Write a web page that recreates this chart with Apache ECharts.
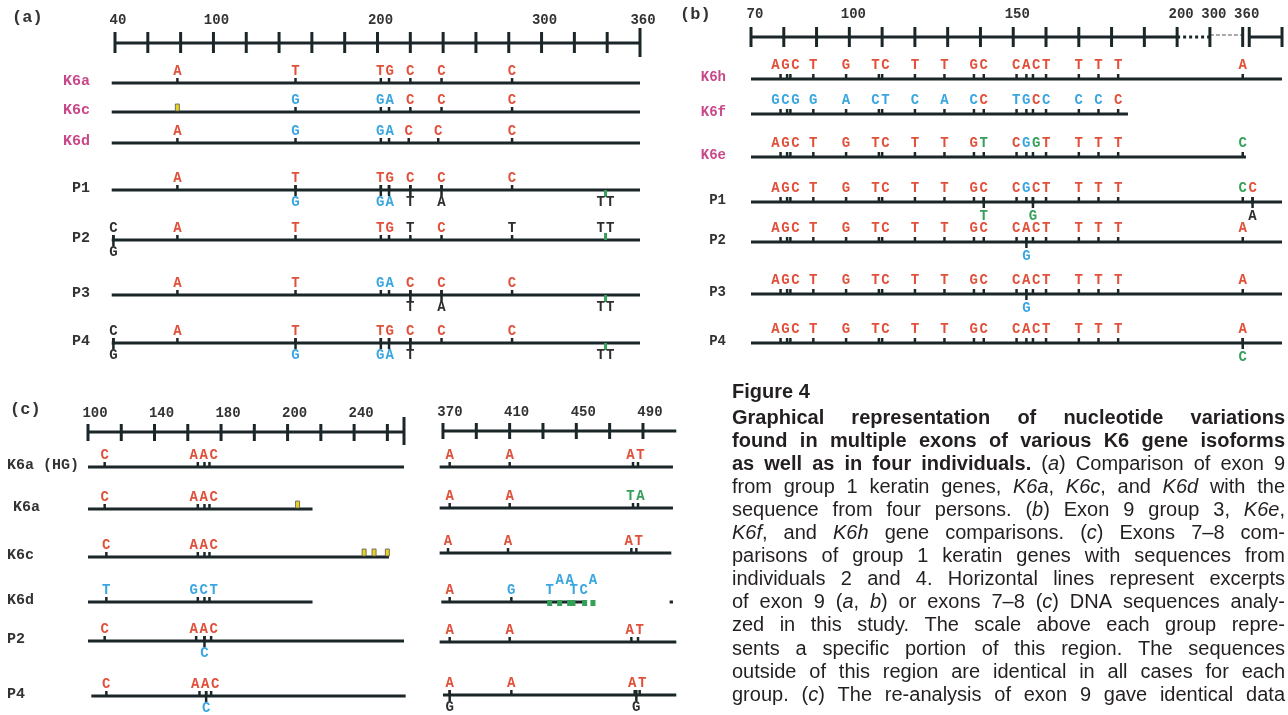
<!DOCTYPE html>
<html>
<head>
<meta charset="utf-8">
<script src="https://cdn.jsdelivr.net/npm/echarts@6/dist/echarts.min.js"></script>
<style>
  html, body { margin: 0; padding: 0; background: #fff; }
  #chart { width: 1288px; height: 715px; }
</style>
</head>
<body>
<div id="chart"></div>
<script>
// ---------- data ----------
// variant rows: [row, position, base(s), colour class, side ('u' above / 'd' below), mark ('g' green, 'y' yellow), tier]
// colour class: r = red, b = blue, g = green, k = dark

// (a) exon 9, group 1
const rowsA = ['K6a', 'K6c', 'K6d', 'P1', 'P2', 'P3', 'P4'];
const rulerTicksA = [40, 60, 80, 100, 120, 140, 160, 180, 200, 220, 240, 260, 280, 300, 320, 340, 360];
const rulerEndA = [360];
const rulerSegA = [[40, 360, 'solid']];
const tickLabelsA = [40, 100, 200, 300, 360];
const tracksA = [[0, 38, 360], [1, 38, 360], [2, 38, 360], [3, 38, 360], [4, 38, 360], [5, 38, 360], [6, 38, 360]];
const varsA = [
  [0, 78, 'A', 'r', 'u'], [0, 150, 'T', 'r', 'u'], [0, 202, 'T', 'r', 'u'], [0, 207, 'G', 'r', 'u'], [0, 220, 'C', 'r', 'u'], [0, 239, 'C', 'r', 'u'], [0, 282, 'C', 'r', 'u'],
  [1, 78, '', 'r', 'u', 'y'], [1, 150, 'G', 'b', 'u'], [1, 202, 'G', 'b', 'u'], [1, 207, 'A', 'b', 'u'], [1, 220, 'C', 'r', 'u'], [1, 239, 'C', 'r', 'u'], [1, 282, 'C', 'r', 'u'],
  [2, 78, 'A', 'r', 'u'], [2, 150, 'G', 'b', 'u'], [2, 202, 'G', 'b', 'u'], [2, 207, 'A', 'b', 'u'], [2, 219, 'C', 'r', 'u'], [2, 237, 'C', 'r', 'u'], [2, 282, 'C', 'r', 'u'],
  [3, 78, 'A', 'r', 'u'], [3, 150, 'T', 'r', 'u'], [3, 202, 'T', 'r', 'u'], [3, 207, 'G', 'r', 'u'], [3, 220, 'C', 'r', 'u'], [3, 239, 'C', 'r', 'u'], [3, 282, 'C', 'r', 'u'],
  [3, 150, 'G', 'b', 'd'], [3, 202, 'G', 'b', 'd'], [3, 207, 'A', 'b', 'd'], [3, 220, 'T', 'k', 'd'], [3, 239, 'A', 'k', 'd'], [3, 339, 'TT', 'k', 'd', 'g'],
  [4, 39, 'C', 'k', 'u'], [4, 39, 'G', 'k', 'd'], [4, 78, 'A', 'r', 'u'], [4, 150, 'T', 'r', 'u'], [4, 202, 'T', 'r', 'u'], [4, 207, 'G', 'r', 'u'], [4, 220, 'T', 'k', 'u'],
  [4, 239, 'C', 'r', 'u'], [4, 282, 'T', 'k', 'u'], [4, 339, 'TT', 'k', 'u', 'g'],
  [5, 78, 'A', 'r', 'u'], [5, 150, 'T', 'r', 'u'], [5, 202, 'G', 'b', 'u'], [5, 207, 'A', 'b', 'u'], [5, 220, 'C', 'r', 'u'], [5, 239, 'C', 'r', 'u'], [5, 282, 'C', 'r', 'u'],
  [5, 220, 'T', 'k', 'd'], [5, 239, 'A', 'k', 'd'], [5, 339, 'TT', 'k', 'd', 'g'],
  [6, 39, 'C', 'k', 'u'], [6, 39, 'G', 'k', 'd'], [6, 78, 'A', 'r', 'u'], [6, 150, 'T', 'r', 'u'], [6, 202, 'T', 'r', 'u'], [6, 207, 'G', 'r', 'u'], [6, 220, 'C', 'r', 'u'],
  [6, 239, 'C', 'r', 'u'], [6, 282, 'C', 'r', 'u'], [6, 150, 'G', 'b', 'd'], [6, 202, 'G', 'b', 'd'], [6, 207, 'A', 'b', 'd'], [6, 220, 'T', 'k', 'd'], [6, 339, 'TT', 'k', 'd', 'g']
];

// (b) exon 9, group 3 (axis broken after 200)
const rowsB = ['K6h', 'K6f', 'K6e', 'P1', 'P2', 'P3', 'P4'];
const rulerTicksB = [70, 80, 90, 100, 110, 120, 130, 140, 150, 160, 170, 180, 190, 200, 300, 360, 372, 432];
const rulerEndB = [];
const rulerSegB = [[70, 200, 'solid'], [200, 300, 'dotted'], [300, 360, 'dashed'], [372, 432, 'solid']];
const tickLabelsB = [70, 100, 150, 200, 300, 360];
const tracksB = [[0, 70, 432], [1, 70, 185], [2, 70, 366], [3, 70, 432], [4, 70, 432], [5, 70, 432], [6, 70, 432]];
const sitesB = [79, 81, 82, 89, 99, 109, 110, 120, 129, 138, 141, 151, 154, 156, 160, 170, 176, 182, 360];
const seqK6h = 'AGCTGTCTTGCCACTTTTA';
const seqK6f = 'GCGGACTCACCTGCCCCC';
const colK6f = 'bbbbbbbbbbrbbrbbbr';
const seqK6e = 'AGCTGTCTTGTCGGTTTTC';
const colK6e = 'rrrrrrrrrrgrbgrrrrg';
const seqP1 = 'AGCTGTCTTGCCGCTTTTC';
const colP1 = 'rrrrrrrrrrrrbrrrrrg';
const extraB = [
  [3, 378, 'C', 'r', 'u'], [3, 141, 'T', 'g', 'd'], [3, 156, 'G', 'g', 'd'], [3, 378, 'A', 'k', 'd'],
  [4, 154, 'G', 'b', 'd'], [5, 154, 'G', 'b', 'd'], [6, 360, 'C', 'g', 'd']
];

// (c) exons 7-8, left and right excerpts
const rowsC = ['K6a (HG)', 'K6a', 'K6c', 'K6d', 'P2', 'P4'];
const rulerTicksC1 = [100, 120, 140, 160, 180, 200, 220, 240, 260, 280, 290];
const rulerEndC1 = [290];
const rulerSegC1 = [[100, 290, 'solid']];
const tickLabelsC1 = ['100', '140', '180', '200', '240'];
const tracksC1 = [[0, 100, 290], [1, 100, 235], [2, 100, 281], [3, 100, 235], [4, 100, 290], [5, 102, 291]];
const varsC1 = [
  [0, 110, 'C', 'r', 'u'], [0, 166, 'A', 'r', 'u'], [0, 170, 'A', 'r', 'u'], [0, 173, 'C', 'r', 'u'],
  [1, 110, 'C', 'r', 'u'], [1, 166, 'A', 'r', 'u'], [1, 170, 'A', 'r', 'u'], [1, 173, 'C', 'r', 'u'], [1, 226, '', 'r', 'u', 'y'],
  [2, 111, 'C', 'r', 'u'], [2, 166, 'A', 'r', 'u'], [2, 170, 'A', 'r', 'u'], [2, 173, 'C', 'r', 'u'],
  [2, 266, '', 'r', 'u', 'y'], [2, 272, '', 'r', 'u', 'y'], [2, 280, '', 'r', 'u', 'y'],
  [3, 111, 'T', 'b', 'u'], [3, 166, 'G', 'b', 'u'], [3, 170, 'C', 'b', 'u'], [3, 173, 'T', 'b', 'u'],
  [4, 110, 'C', 'r', 'u'], [4, 165, 'A', 'r', 'u'], [4, 170, 'A', 'r', 'u'], [4, 174, 'C', 'r', 'u'], [4, 170, 'C', 'b', 'd'],
  [5, 111, 'C', 'r', 'u'], [5, 167, 'A', 'r', 'u'], [5, 171, 'A', 'r', 'u'], [5, 174, 'C', 'r', 'u'], [5, 171, 'C', 'b', 'd']
];
const rulerTicksC2 = [370, 390, 410, 430, 450, 470, 490];
const rulerEndC2 = [];
const rulerSegC2 = [[370, 510, 'solid']];
const tickLabelsC2 = ['370', '410', '450', '490'];
const tracksC2 = [[0, 368, 508], [1, 368, 508], [2, 368, 507], [3, 369, 455], [3, 506, 508], [4, 368, 510], [5, 370, 510]];
const varsC2 = [
  [0, 374, 'A', 'r', 'u'], [0, 410, 'A', 'r', 'u'], [0, 484, 'A', 'r', 'u'], [0, 487, 'T', 'r', 'u'],
  [1, 374, 'A', 'r', 'u'], [1, 410, 'A', 'r', 'u'], [1, 484, 'T', 'g', 'u'], [1, 487, 'A', 'g', 'u'],
  [2, 373, 'A', 'r', 'u'], [2, 409, 'A', 'r', 'u'], [2, 483, 'A', 'r', 'u'], [2, 486, 'T', 'r', 'u'],
  [3, 374, 'A', 'r', 'u'], [3, 411, 'G', 'b', 'u'], [3, 434, 'T', 'b', 'u', 'G', 0], [3, 440, 'A', 'b', 'u', 'G', 1],
  [3, 446, 'A', 'b', 'u', 'G', 1], [3, 448, 'T', 'b', 'u', 'G', 0], [3, 455, 'C', 'b', 'u', 'G', 0], [3, 460, 'A', 'b', 'u', 'G', 1],
  [4, 374, 'A', 'r', 'u'], [4, 410, 'A', 'r', 'u'], [4, 483, 'A', 'r', 'u'], [4, 487, 'T', 'r', 'u'],
  [5, 374, 'A', 'r', 'u'], [5, 374, 'G', 'k', 'd'], [5, 411, 'A', 'r', 'u'], [5, 485, 'A', 'r', 'u'], [5, 488, 'T', 'r', 'u'], [5, 486, 'G', 'k', 'd']
];

// build panel (b) variants from the aligned site list
function fromSites(row, seq, cols) {
  return seq.split('').map((ch, i) => [row, sitesB[i], ch, cols ? cols[i] : 'r', 'u']);
}
const varsB = [].concat(
  fromSites(0, seqK6h), fromSites(1, seqK6f, colK6f), fromSites(2, seqK6e, colK6e),
  fromSites(3, seqP1, colP1), fromSites(4, seqK6h), fromSites(5, seqK6h), fromSites(6, seqK6h), extraB
);

// caption
const captionTitle = 'Figure 4';
const captionLines = [
  [['b', 'Graphical representation of nucleotide variations']],
  [['b', 'found in multiple exons of various K6 gene isoforms']],
  [['b', 'as well as in four individuals.'], ['r', ' ('], ['i', 'a'], ['r', ') Comparison of exon 9']],
  [['r', 'from group 1 keratin genes, '], ['i', 'K6a'], ['r', ', '], ['i', 'K6c'], ['r', ', and '], ['i', 'K6d'], ['r', ' with the']],
  [['r', 'sequence from four persons. ('], ['i', 'b'], ['r', ') Exon 9 group 3, '], ['i', 'K6e'], ['r', ',']],
  [['i', 'K6f'], ['r', ', and '], ['i', 'K6h'], ['r', ' gene comparisons. ('], ['i', 'c'], ['r', ') Exons 7–8 com-']],
  [['r', 'parisons of group 1 keratin genes with sequences from']],
  [['r', 'individuals 2 and 4. Horizontal lines represent excerpts']],
  [['r', 'of exon 9 ('], ['i', 'a'], ['r', ', '], ['i', 'b'], ['r', ') or exons 7–8 ('], ['i', 'c'], ['r', ') DNA sequences analy-']],
  [['r', 'zed in this study. The scale above each group repre-']],
  [['r', 'sents a specific portion of this region. The sequences']],
  [['r', 'outside of this region are identical in all cases for each']],
  [['r', 'group. ('], ['i', 'c'], ['r', ') The re-analysis of exon 9 gave identical data']]
];

// ---------- style / layout ----------
const MONO = '"Liberation Mono", "DejaVu Sans Mono", monospace';
const SANS = '"Liberation Sans", Arial, sans-serif';
const INK = '#1b2628';
const COLORS = { r: '#e0503a', b: '#3aa6e0', g: '#36a05a', k: '#2e2e2e' };
const PINK = '#c8498a';

// axis break for (b): 200..300 squeezed to 10 units, 300.. compressed 6:1
const breakB = p => p <= 200 ? p : p <= 300 ? 200 + (p - 200) / 10 : 210 + (p - 300) / 6;
const same = p => p;

const panels = [
  { rows: rowsA, ticks: rulerTicksA, ends: rulerEndA, segs: rulerSegA, tracks: tracksA, vars: varsA, map: same,
    labelValues: tickLabelsA, labelText: tickLabelsA.map(String), names: true,
    left: 115, top: 43, width: 525, height: 320, min: 40, max: 360,
    rowY: [83, 112, 143, 190, 240, 295, 343], tick: [11, 10], tall: [15, 14],
    gap: 12, step: 9.5, axisMargin: 16, axisPad: 6, nameMargin: 25, nameAlign: 'right', nameSize: 15 },
  { rows: rowsB, ticks: rulerTicksB, ends: rulerEndB, segs: rulerSegB, tracks: tracksB, vars: varsB, map: breakB,
    labelValues: tickLabelsB.map(breakB), labelText: tickLabelsB.map(String), names: true,
    left: 751, top: 37, width: 532, height: 320, min: 70, max: 232.3,
    rowY: [79, 114, 157, 202, 242, 294, 343], tick: [10, 10], tall: [10, 10],
    gap: 14, step: 10, axisMargin: 16, axisPad: 8, nameMargin: 25, nameAlign: 'right', nameSize: 14 },
  { rows: rowsC, ticks: rulerTicksC1, ends: rulerEndC1, segs: rulerSegC1, tracks: tracksC1, vars: varsC1, map: same,
    labelValues: [100, 140, 180, 220, 260], labelText: tickLabelsC1, names: true,
    left: 88, top: 432, width: 316, height: 280, min: 100, max: 290,
    rowY: [467, 509, 557, 602, 641, 696], tick: [8, 9], tall: [15, 13],
    gap: 12, step: 10, axisMargin: 12, axisPad: 14, nameMargin: 81, nameAlign: 'left', nameSize: 15 },
  { rows: rowsC, ticks: rulerTicksC2, ends: rulerEndC2, segs: rulerSegC2, tracks: tracksC2, vars: varsC2, map: same,
    labelValues: [370, 410, 450, 490], labelText: tickLabelsC2, names: false,
    left: 436.3, top: 431, width: 240, height: 280, min: 366, max: 510,
    rowY: [467, 508, 553, 602, 642, 695], tick: [8, 8], tall: [8, 8],
    gap: 12, step: 10, axisMargin: 12, axisPad: 14, nameMargin: 0, nameAlign: 'right', nameSize: 15 }
];

// ---------- build ----------
const grids = [], xAxes = [], yAxes = [], series = [];

panels.forEach((P, i) => {
  const off = P.rowY.map(y => y - P.top);
  const pxPerUnit = P.width / (P.max - P.min);
  grids.push({ left: P.left, top: P.top, width: P.width, height: P.height, outerBoundsMode: 'none' });

  xAxes.push({
    gridIndex: i, type: 'value', min: P.min, max: P.max, position: 'top',
    axisLine: { show: false }, axisTick: { show: false }, splitLine: { show: false },
    axisLabel: {
      customValues: P.labelValues, margin: P.axisMargin, padding: [0, 0, 0, P.axisPad],
      fontFamily: MONO, fontWeight: 'bold', fontSize: 14, color: '#333',
      formatter: v => { const k = P.labelValues.findIndex(u => Math.abs(u - v) < 0.01); return k < 0 ? '' : P.labelText[k]; }
    }
  });

  yAxes.push({
    gridIndex: i, type: 'value', inverse: true, min: 0, max: P.height,
    axisLine: { show: false }, axisTick: { show: false }, splitLine: { show: false },
    axisLabel: {
      show: P.names, customValues: off, margin: P.nameMargin, align: P.nameAlign,
      formatter: v => {
        const k = off.findIndex(u => Math.abs(u - v) < 0.5);
        if (k < 0) return '';
        const name = P.rows[k];
        if (i === 2) return (name === 'K6a' ? '{ind|' : '{p|') + name + '}';
        return (name.startsWith('K6') ? '{k|' : '{p|') + name + '}';
      },
      rich: {
        k: { color: PINK, fontFamily: MONO, fontWeight: 'bold', fontSize: P.nameSize, padding: [0, 0, 4, 0] },
        p: { color: '#333', fontFamily: MONO, fontWeight: 'bold', fontSize: P.nameSize, padding: [0, 0, 4, 0] },
        ind: { color: '#333', fontFamily: MONO, fontWeight: 'bold', fontSize: P.nameSize, padding: [0, 0, 4, 6] }
      }
    }
  });

  // ruler baseline segments
  series.push({
    type: 'custom', xAxisIndex: i, yAxisIndex: i, silent: true,
    data: P.segs.map(s => [P.map(s[0]), P.map(s[1]), ['solid', 'dotted', 'dashed'].indexOf(s[2])]),
    renderItem: (params, api) => {
      const a = api.coord([api.value(0), 0]), b = api.coord([api.value(1), 0]);
      const kind = api.value(2);
      const style = kind === 0 ? { stroke: INK, lineWidth: 3 }
        : kind === 1 ? { stroke: INK, lineWidth: 3, lineDash: [3, 3] }
        : { stroke: '#8a8f90', lineWidth: 1.5, lineDash: [4, 2] };
      const dy = kind === 2 ? -2 : 0;
      return { type: 'line', shape: { x1: a[0], y1: a[1] + dy, x2: b[0], y2: b[1] + dy }, style };
    }
  });
  // ruler ticks
  series.push({
    type: 'custom', xAxisIndex: i, yAxisIndex: i, silent: true,
    data: P.ticks.map(t => [P.map(t), P.ends.includes(t) ? 1 : 0]),
    renderItem: (params, api) => {
      const c = api.coord([api.value(0), 0]);
      const h = api.value(1) ? P.tall : P.tick;
      return { type: 'rect', shape: { x: c[0] - 1.5, y: c[1] - h[0], width: 3, height: h[0] + h[1] }, style: { fill: INK } };
    }
  });
  // sequence tracks
  series.push({
    type: 'custom', xAxisIndex: i, yAxisIndex: i, silent: true,
    data: P.tracks.map(t => [P.map(t[1]), P.map(t[2]), off[t[0]]]),
    renderItem: (params, api) => {
      const a = api.coord([api.value(0), api.value(2)]), b = api.coord([api.value(1), api.value(2)]);
      return { type: 'line', shape: { x1: a[0], y1: a[1], x2: b[0], y2: b[1] }, style: { stroke: INK, lineWidth: 3 } };
    }
  });
  // variant marks on the tracks
  series.push({
    type: 'custom', xAxisIndex: i, yAxisIndex: i, silent: true,
    data: P.vars.map(v => [P.map(v[1]), off[v[0]], v[4] === 'd' ? 1 : 0, ['', 'g', 'y', 'G'].indexOf(v[5] || '')]),
    renderItem: (params, api) => {
      const c = api.coord([api.value(0), api.value(1)]);
      const down = api.value(2), mark = api.value(3);
      if (mark === 1) return { type: 'rect', shape: { x: c[0] - 1.5, y: down ? c[1] : c[1] - 7, width: 3, height: 7 }, style: { fill: COLORS.g } };
      if (mark === 3) return { type: 'rect', shape: { x: c[0] - 2.5, y: c[1] - 2, width: 5, height: 6 }, style: { fill: COLORS.g } };
      if (mark === 2) return { type: 'rect', shape: { x: c[0] - 2, y: c[1] - 8, width: 4, height: 7 }, style: { fill: '#e8d41e', stroke: '#555', lineWidth: 0.8 } };
      return { type: 'rect', shape: { x: c[0] - 1.2, y: c[1] - 5, width: 2.5, height: down ? 11 : 5 }, style: { fill: INK } };
    }
  });

  // group nearby letters on the same row/side/tier into clusters
  const groups = {};
  P.vars.filter(v => v[2]).forEach(v => {
    const k = v[0] + '|' + v[4] + '|' + (v[6] || 0);
    (groups[k] = groups[k] || []).push(v);
  });
  const clusters = [];
  Object.values(groups).forEach(list => {
    list.sort((a, b) => P.map(a[1]) - P.map(b[1]));
    let cur = [list[0]];
    for (let j = 1; j < list.length; j++) {
      const d = (P.map(list[j][1]) - P.map(cur[cur.length - 1][1])) * pxPerUnit;
      if (d <= 14) cur.push(list[j]); else { clusters.push(cur); cur = [list[j]]; }
    }
    clusters.push(cur);
  });
  const store = clusters.map(cl => {
    const letters = [];
    cl.forEach(v => v[2].split('').forEach(ch => letters.push([ch, v[3]])));
    return letters;
  });
  series.push({
    type: 'custom', xAxisIndex: i, yAxisIndex: i, silent: true,
    data: clusters.map((cl, j) => {
      const xs = cl.map(v => P.map(v[1]));
      return [(Math.min(...xs) + Math.max(...xs)) / 2, off[cl[0][0]], cl[0][4] === 'd' ? 1 : 0, cl[0][6] || 0, j];
    }),
    renderItem: (params, api) => {
      const c = api.coord([api.value(0), api.value(1)]);
      const letters = store[api.value(4)];
      const y = c[1] + (api.value(2) ? P.gap : -P.gap) - api.value(3) * 10;
      return {
        type: 'group',
        children: letters.map(([ch, cls], k) => ({
          type: 'text', x: c[0] + (k - (letters.length - 1) / 2) * P.step, y,
          style: { text: ch, fill: COLORS[cls], fontFamily: MONO, fontWeight: 'bold', fontSize: 14, align: 'center', verticalAlign: 'middle' }
        }))
      };
    }
  });
});

// ---------- caption (justified) ----------
const CAP_SIZE = 20, CAP_LEFT = 732, CAP_RIGHT = 1285;
const ctx = document.createElement('canvas').getContext('2d');
const cssFont = st => (st === 'i' ? 'italic ' : '') + (st === 'b' ? 'bold ' : '') + CAP_SIZE + 'px ' + SANS;
function measure(st, txt) { ctx.font = cssFont(st); return ctx.measureText(txt).width; }
function textEl(st, txt, x, y) {
  return {
    type: 'text', x, y, silent: true,
    style: { text: txt, fill: '#231f20', fontFamily: SANS, fontSize: CAP_SIZE,
      fontWeight: st === 'b' ? 'bold' : 'normal', fontStyle: st === 'i' ? 'italic' : 'normal', verticalAlign: 'middle' }
  };
}
const graphic = [
  { type: 'text', x: 12, y: 18, style: { text: '(a)', fill: '#333', fontFamily: MONO, fontWeight: 'bold', fontSize: 17, verticalAlign: 'middle' } },
  { type: 'text', x: 680, y: 15, style: { text: '(b)', fill: '#333', fontFamily: MONO, fontWeight: 'bold', fontSize: 17, verticalAlign: 'middle' } },
  { type: 'text', x: 10, y: 410, style: { text: '(c)', fill: '#333', fontFamily: MONO, fontWeight: 'bold', fontSize: 17, verticalAlign: 'middle' } },
  textEl('b', captionTitle, CAP_LEFT, 392)
];
captionLines.forEach((line, li) => {
  const words = []; let cur = [];
  line.forEach(([st, txt]) => {
    txt.split(' ').forEach((part, k) => {
      if (k > 0) { if (cur.length) words.push(cur); cur = []; }
      if (part) cur.push([st, part]);
    });
  });
  if (cur.length) words.push(cur);
  const widths = words.map(w => w.reduce((s, [st, t]) => s + measure(st, t), 0));
  const total = widths.reduce((a, b) => a + b, 0);
  const gap = (CAP_RIGHT - CAP_LEFT - total) / Math.max(1, words.length - 1);
  const y = 418 + li * 23.1;
  let x = CAP_LEFT;
  words.forEach((w, wi) => {
    let wx = x;
    w.forEach(([st, t]) => { graphic.push(textEl(st, t, wx, y)); wx += measure(st, t); });
    x += widths[wi] + gap;
  });
});

const chart = echarts.init(document.getElementById('chart'));
chart.setOption({
  animation: false,
  backgroundColor: '#fff',
  grid: grids, xAxis: xAxes, yAxis: yAxes, series, graphic
});
</script>
</body>
</html>
